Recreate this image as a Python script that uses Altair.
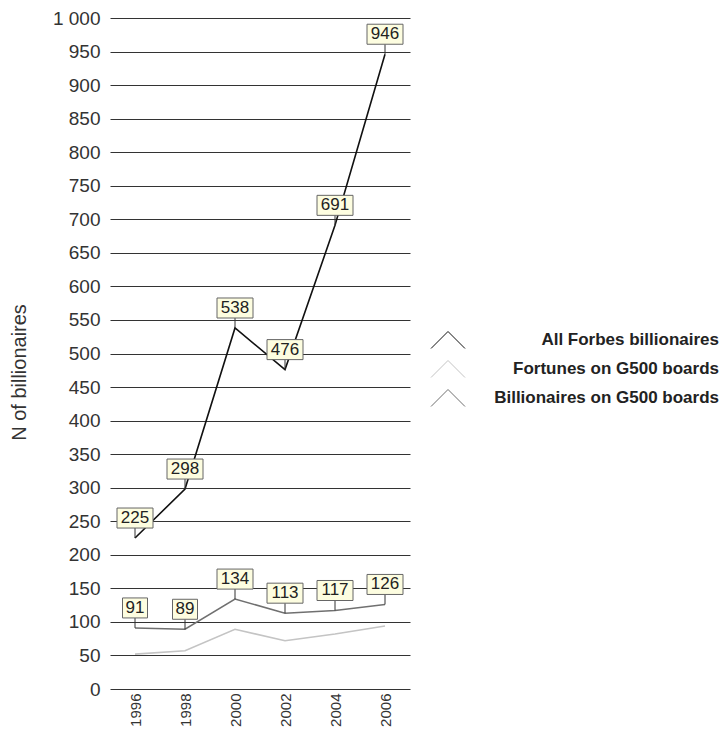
import altair as alt
import pandas as pd

years = ["1996", "1998", "2000", "2002", "2004", "2006"]
series_names = ["All Forbes billionaires", "Fortunes on G500 boards", "Billionaires on G500 boards"]
all_forbes = [225, 298, 538, 476, 691, 946]
fortunes_g500 = [52, 57, 89, 72, 82, 94]
billionaires_g500 = [91, 89, 134, 113, 117, 126]
series_colors = ["#111111", "#c4c4c4", "#707070"]
y_ticks = list(range(0, 1001, 50))

rows = []
for name, vals in zip(series_names, [all_forbes, fortunes_g500, billionaires_g500]):
    for yr, v in zip(years, vals):
        rows.append({"year": yr, "value": v, "series": name,
                     "labeled": name != "Fortunes on G500 boards"})
df = pd.DataFrame(rows)

FONT = "Liberation Sans, Arial"

x_enc = alt.X("year:O", sort=years, scale=alt.Scale(type="point", padding=0.5),
              axis=alt.Axis(title=None, labelAngle=270, labelAlign="right",
                            labelBaseline="middle", labelPadding=4, labelFontSize=15,
                            labelColor="#333333", labelFont=FONT, domain=False,
                            ticks=False, grid=False))
y_enc = alt.Y("value:Q", scale=alt.Scale(domain=[0, 1000], nice=False, zero=True),
              axis=alt.Axis(title="N of billionaires", values=y_ticks,
                            labelExpr="replace(format(datum.value, ','), ',', ' ')",
                            labelOverlap=False,
                            labelFontSize=19, labelColor="#333333", labelFont=FONT,
                            labelPadding=10, domain=False, ticks=False,
                            grid=True, gridColor="#333333", gridWidth=1,
                            titleFontSize=20, titleFontWeight="normal",
                            titleColor="#333333", titleFont=FONT,
                            titleX=-91, titleY=354, titleAngle=270,
                            titleAlign="center", titleBaseline="middle"))

base = alt.Chart(df).encode(x=x_enc, y=y_enc)

lines = base.mark_line(strokeWidth=1.6).encode(
    color=alt.Color("series:N", sort=series_names,
                    scale=alt.Scale(domain=series_names, range=series_colors),
                    legend=alt.Legend(
                        title=None, orient="none", legendX=329, legendY=313,
                        symbolType="M-2,1L0,-1L2,1", symbolSize=289,
                        symbolStrokeWidth=1, symbolFillColor="transparent",
                        labelAlign="right", labelBaseline="middle",
                        labelOffset=262, labelLimit=400,
                        labelFontSize=17, labelFontWeight="bold",
                        labelFont=FONT, labelColor="#222222",
                        rowPadding=7, padding=0)),
    detail="series:N",
)

lab = base.transform_filter("datum.labeled").transform_calculate(
    nd="length(toString(datum.value)) > 2 ? 'three' : 'two'"
)

leaders = lab.mark_rule(color="#333333", strokeWidth=1, y2Offset=-10).encode(
    y2=alt.Y2("value:Q")
)

boxes = lab.mark_point(filled=True, fill="#fdfde0", stroke="#666666",
                       strokeWidth=1, opacity=1, fillOpacity=1, yOffset=-20).encode(
    shape=alt.Shape("nd:N", scale=alt.Scale(
        domain=["two", "three"],
        range=["M-1,-0.8L1,-0.8L1,0.8L-1,0.8Z", "M-1,-0.556L1,-0.556L1,0.556L-1,0.556Z"]),
        legend=None),
    size=alt.Size("nd:N", scale=alt.Scale(domain=["two", "three"], range=[625, 1296]),
                  legend=None),
)

texts = lab.mark_text(fontSize=17, font=FONT, color="#222222", yOffset=-20,
                      baseline="middle", align="center").encode(
    text="value:Q"
)

chart = alt.layer(lines, leaders, boxes, texts).properties(
    width=300, height=671,
    autosize=alt.AutoSizeParams(type="none"),
    padding={"left": 102, "top": 10, "right": 309, "bottom": 38},
    background="white",
).configure_view(stroke=None)

chart.save("out.html", embed_options={"renderer": "svg", "actions": False})
